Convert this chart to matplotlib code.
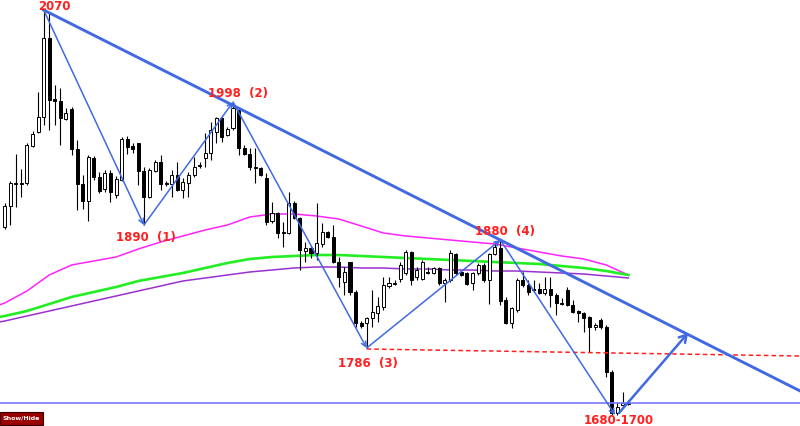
import numpy as np
import matplotlib.pyplot as plt
from matplotlib.patches import Rectangle

# Candle data (price scale estimated, one value per bar)
opens = [1853, 1874, 1896, 1897, 1897, 1934, 1948, 1963, 2042, 1981,
         1979, 1961, 1971, 1931, 1896, 1879, 1922, 1903, 1891, 1907,
         1885, 1900, 1941, 1934, 1937, 1909, 1883, 1909, 1918, 1897,
         1896, 1905, 1890, 1897, 1905, 1914, 1922, 1927, 1948, 1962,
         1945, 1952, 1970, 1932, 1926, 1913, 1912, 1902, 1859, 1867,
         1848, 1847, 1877, 1862, 1829, 1832, 1827, 1836, 1848, 1843,
         1818, 1798, 1818, 1788, 1757, 1757, 1762, 1767, 1773, 1794,
         1797, 1801, 1807, 1828, 1803, 1801, 1808, 1807, 1812, 1797,
         1800, 1826, 1808, 1807, 1797, 1807, 1815, 1800, 1826, 1832,
         1780, 1757, 1770, 1800, 1795, 1791, 1791, 1787, 1791, 1785,
         1777, 1790, 1775, 1769, 1767, 1763, 1753, 1760, 1753, 1708,
         1667, 1675, 1676]
highs = [1877, 1899, 1926, 1911, 1937, 1949, 1988, 2070, 2067, 1995,
         1992, 1972, 1973, 1940, 1905, 1925, 1924, 1908, 1910, 1910,
         1904, 1943, 1944, 1937, 1937, 1913, 1912, 1920, 1925, 1899,
         1910, 1918, 1902, 1908, 1923, 1918, 1947, 1958, 1963, 1963,
         1953, 1978, 1972, 1935, 1932, 1932, 1913, 1907, 1878, 1868,
         1858, 1888, 1879, 1863, 1838, 1834, 1877, 1857, 1849, 1855,
         1823, 1813, 1818, 1790, 1759, 1763, 1790, 1783, 1803, 1803,
         1800, 1818, 1830, 1829, 1813, 1820, 1813, 1813, 1813, 1802,
         1830, 1827, 1809, 1808, 1808, 1817, 1817, 1827, 1838, 1840,
         1783, 1773, 1802, 1808, 1800, 1800, 1797, 1803, 1803, 1787,
         1782, 1793, 1780, 1770, 1768, 1764, 1757, 1762, 1755, 1710,
         1678, 1688, 1680]
lows = [1851, 1855, 1873, 1883, 1895, 1933, 1947, 1955, 1950, 1955,
        1935, 1960, 1925, 1870, 1871, 1859, 1900, 1887, 1888, 1878,
        1882, 1899, 1926, 1927, 1895, 1855, 1882, 1908, 1890, 1894,
        1883, 1889, 1882, 1883, 1903, 1912, 1913, 1920, 1937, 1938,
        1944, 1950, 1925, 1925, 1910, 1897, 1904, 1855, 1857, 1842,
        1833, 1846, 1861, 1810, 1818, 1822, 1820, 1833, 1842, 1817,
        1793, 1785, 1785, 1753, 1752, 1732, 1753, 1758, 1770, 1792,
        1795, 1798, 1805, 1795, 1800, 1800, 1806, 1806, 1795, 1778,
        1798, 1805, 1804, 1795, 1790, 1805, 1798, 1776, 1825, 1775,
        1756, 1752, 1768, 1793, 1785, 1788, 1786, 1785, 1773, 1765,
        1775, 1774, 1767, 1758, 1748, 1728, 1750, 1751, 1703, 1665,
        1665, 1673, 1675]
closes = [1874, 1897, 1897, 1896, 1935, 1946, 1963, 2042, 1980, 1979,
          1962, 1967, 1931, 1896, 1879, 1923, 1903, 1889, 1907, 1888,
          1901, 1941, 1933, 1931, 1909, 1883, 1910, 1918, 1896, 1896,
          1905, 1890, 1898, 1905, 1913, 1915, 1927, 1950, 1962, 1943,
          1951, 1972, 1932, 1926, 1913, 1912, 1905, 1858, 1867, 1847,
          1847, 1877, 1862, 1830, 1832, 1827, 1837, 1848, 1843, 1818,
          1803, 1808, 1788, 1757, 1754, 1762, 1768, 1774, 1795, 1797,
          1796, 1815, 1828, 1800, 1810, 1818, 1807, 1812, 1797, 1800,
          1827, 1807, 1805, 1796, 1807, 1815, 1800, 1826, 1833, 1779,
          1757, 1772, 1800, 1795, 1788, 1790, 1787, 1791, 1785, 1777,
          1776, 1775, 1768, 1767, 1762, 1753, 1755, 1753, 1708, 1667,
          1673, 1677, 1677]

# moving averages, sampled every few bars
ma_idx = [-1, 0, 4, 8, 12, 16, 20, 24, 28, 32, 36, 40, 44, 48, 52, 56,
          60, 64, 68, 72, 76, 80, 84, 88, 92, 96, 100, 104, 108, 112]
ma_fast = [1775, 1777, 1789, 1805, 1815, 1819, 1823, 1831, 1838, 1844,
           1850, 1855, 1863, 1866, 1866, 1864, 1861, 1854, 1847, 1844,
           1842, 1840, 1838, 1836, 1832, 1828, 1824, 1821, 1815, 1805]
ma_mid = [1763, 1764, 1769, 1776, 1783, 1788, 1793, 1799, 1803, 1807,
          1812, 1817, 1821, 1823, 1824, 1825, 1825, 1824, 1823, 1822,
          1821, 1820, 1819, 1818, 1817, 1816, 1814, 1812, 1809, 1805]
ma_slow = [1758, 1759, 1764, 1769, 1774, 1779, 1784, 1789, 1794, 1799,
           1802, 1805, 1808, 1810, 1812, 1813, 1813, 1812, 1812, 1811,
           1811, 1810, 1810, 1809, 1809, 1808, 1807, 1806, 1804, 1802]

# wave pivots and their labels
pivot_idx = [7, 25, 41, 65, 89, 109.6]
pivot_price = [2070, 1855, 1978, 1732, 1840, 1665]
pivot_labels = ['2070', '1890  (1)', '1998  (2)', '1786  (3)', '1880  (4)', '1680-1700']
label_offsets = [(11, 4), (2, -12), (5, 9), (1, -15), (5, 9), (4, -5)]

# projected move, neckline of wave 3 and support
target_idx = [110.3, 122.7]
target_price = [1667, 1747]
level_idx = [65, 142.8]
level_price = [1731, 1724]
support = 1677

BLUE = '#4169e1'
RED = '#ff2020'

fig = plt.figure(figsize=(8, 4.26), dpi=100)
ax = fig.add_axes([0, 0, 1, 1])
ax.set_xlim(-0.84, 142.8)
ax.set_ylim(1654, 2080)
ax.axis('off')

# medias moviles
ax.plot(ma_idx, ma_fast, color='#ff22ff', lw=1.1, zorder=1)
ax.plot(ma_idx, ma_mid, color='#22ee22', lw=1.9, zorder=1)
ax.plot(ma_idx, ma_slow, color='#9b30d0', lw=1.1, zorder=1)

# velas
o = np.array(opens, dtype=float)
h = np.array(highs, dtype=float)
l = np.array(lows, dtype=float)
c = np.array(closes, dtype=float)
idx = np.arange(len(o))
up = c >= o
bottom = np.minimum(o, c)
height = np.maximum(np.abs(c - o), 0.9)
ax.vlines(idx, l, h, color='black', lw=0.8, zorder=2)
ax.bar(idx[up], height[up], bottom=bottom[up], width=0.55,
       color='white', edgecolor='black', lw=0.7, zorder=3)
ax.bar(idx[~up], height[~up], bottom=bottom[~up], width=0.55,
       color='black', edgecolor='black', lw=0.7, zorder=3)

# support and dashed level
ax.axhline(support, color='#7878ff', lw=1.2, zorder=4)
ax.plot(level_idx, level_price, color=RED, lw=1.1, ls=(0, (3, 2)), zorder=4)

# main down trendline through pivots 0 and 4
slope = (pivot_price[4] - pivot_price[0]) / (pivot_idx[4] - pivot_idx[0])
x_end = ax.get_xlim()[1]
ax.plot([pivot_idx[0], x_end], [pivot_price[0], pivot_price[0] + slope * (x_end - pivot_idx[0])],
        color=BLUE, lw=2.1, zorder=5)

# zigzag
for i in range(len(pivot_idx) - 1):
    ax.annotate('', xy=(pivot_idx[i + 1], pivot_price[i + 1]),
                xytext=(pivot_idx[i], pivot_price[i]),
                arrowprops=dict(arrowstyle='->,head_length=0.35,head_width=0.18',
                                color=BLUE, lw=1.1, shrinkA=0, shrinkB=0),
                zorder=5)

ax.annotate('', xy=(target_idx[1], target_price[1]), xytext=(target_idx[0], target_price[0]),
            arrowprops=dict(arrowstyle='->,head_length=0.5,head_width=0.3',
                            color=BLUE, lw=1.8, shrinkA=0, shrinkB=0),
            zorder=5)

for px, py, txt, off in zip(pivot_idx, pivot_price, pivot_labels, label_offsets):
    ax.annotate(txt, xy=(px, py), xytext=off, textcoords='offset pixels',
                ha='center', va='center', color=RED, fontsize=8.5,
                fontweight='bold', zorder=6)

# boton Show/Hide
fig.patches.append(Rectangle((0, 1 / 426), 43 / 800, 13 / 426, transform=fig.transFigure,
                             facecolor='#990000', edgecolor='#3a0000', lw=0.8))
fig.text(21.5 / 800, 7.5 / 426, 'Show/Hide', color='white', fontsize=4.5,
         fontweight='bold', ha='center', va='center')

fig.savefig('out.png', dpi=100)
